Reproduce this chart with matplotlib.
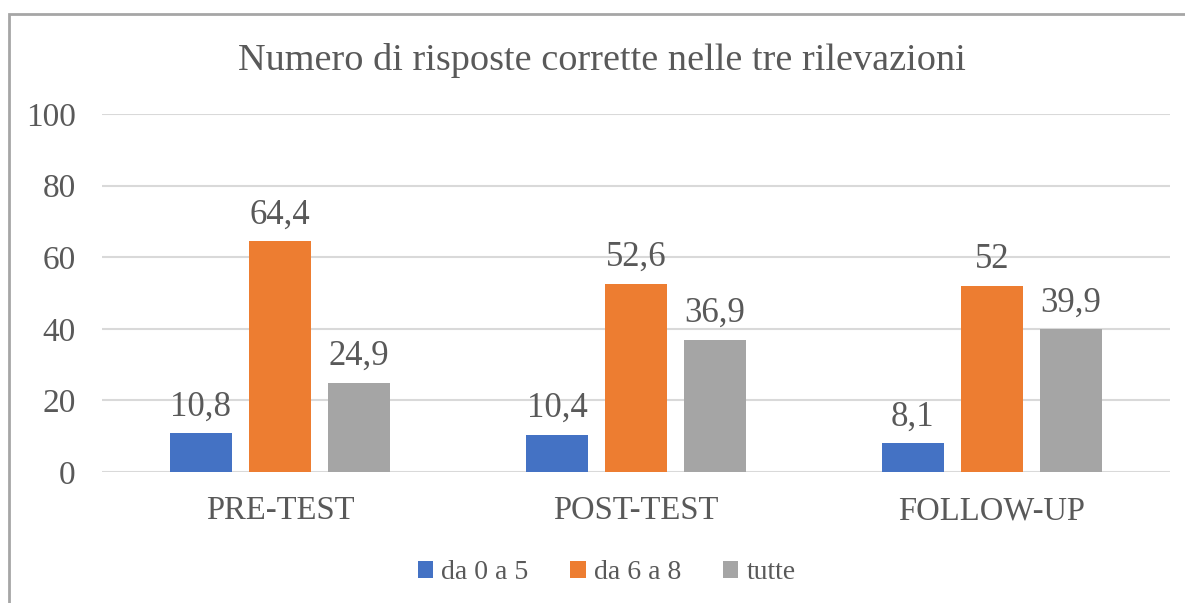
import numpy as np
import matplotlib.pyplot as plt
from matplotlib.patches import Rectangle

categorie = ['PRE-TEST', 'POST-TEST', 'FOLLOW-UP']
serie = ['da 0 a 5', 'da 6 a 8', 'tutte']
valori = [
    [10.8, 10.4, 8.1],    # da 0 a 5
    [64.4, 52.6, 52.0],   # da 6 a 8
    [24.9, 36.9, 39.9],   # tutte
]
colori = ['#4472C4', '#ED7D31', '#A5A5A5']

plt.rcParams['font.family'] = ['Liberation Serif', 'DejaVu Serif']
testo = '#595959'

fig = plt.figure(figsize=(11.85, 6.03), dpi=100)
ax = fig.add_axes([0.0861, 0.2172, 0.9012, 0.5937])

x = np.arange(len(categorie))
larg = 0.174
passo = 0.222
for i, (nome, val) in enumerate(zip(serie, valori)):
    pos = x + (i - 1) * passo
    ax.bar(pos, val, larg, color=colori[i], label=nome, zorder=3)
    for p, v in zip(pos, val):
        etichetta = ('%g' % v).replace('.', ',')
        ax.annotate(etichetta, (p, v), xytext=(0, 7), textcoords='offset points',
                    ha='center', va='bottom', fontsize=25, color=testo)

ax.set_xlim(-0.5, 2.5)
ax.set_ylim(0, 100)
ax.set_yticks(range(0, 101, 20))
ax.set_xticks(x)
ax.set_xticklabels(categorie)
ax.grid(axis='y', color='#D9D9D9', linewidth=1.5, zorder=0)
for s in ax.spines.values():
    s.set_visible(False)
ax.tick_params(axis='both', length=0, colors=testo)
ax.tick_params(axis='y', pad=19, labelsize=24)
ax.tick_params(axis='x', pad=17, labelsize=23.5)

fig.text(0.508, 0.90, 'Numero di risposte corrette nelle tre rilevazioni',
         ha='center', va='center', fontsize=27.5, color=testo)

leg = fig.legend(loc='center', bbox_to_anchor=(0.512, 0.05), ncol=3, frameon=False,
                 prop={'family': 'Liberation Serif', 'size': 20},
                 handlelength=0.55, handleheight=0.55, handletextpad=0.3,
                 columnspacing=1.5)
for t in leg.get_texts():
    t.set_color(testo)

# bordo del grafico
fig.add_artist(Rectangle((0.0076, -0.05), 1.2, 1.026, transform=fig.transFigure,
                         fill=False, edgecolor='#A6A6A6', linewidth=2))

fig.savefig('out.png', dpi=100)
